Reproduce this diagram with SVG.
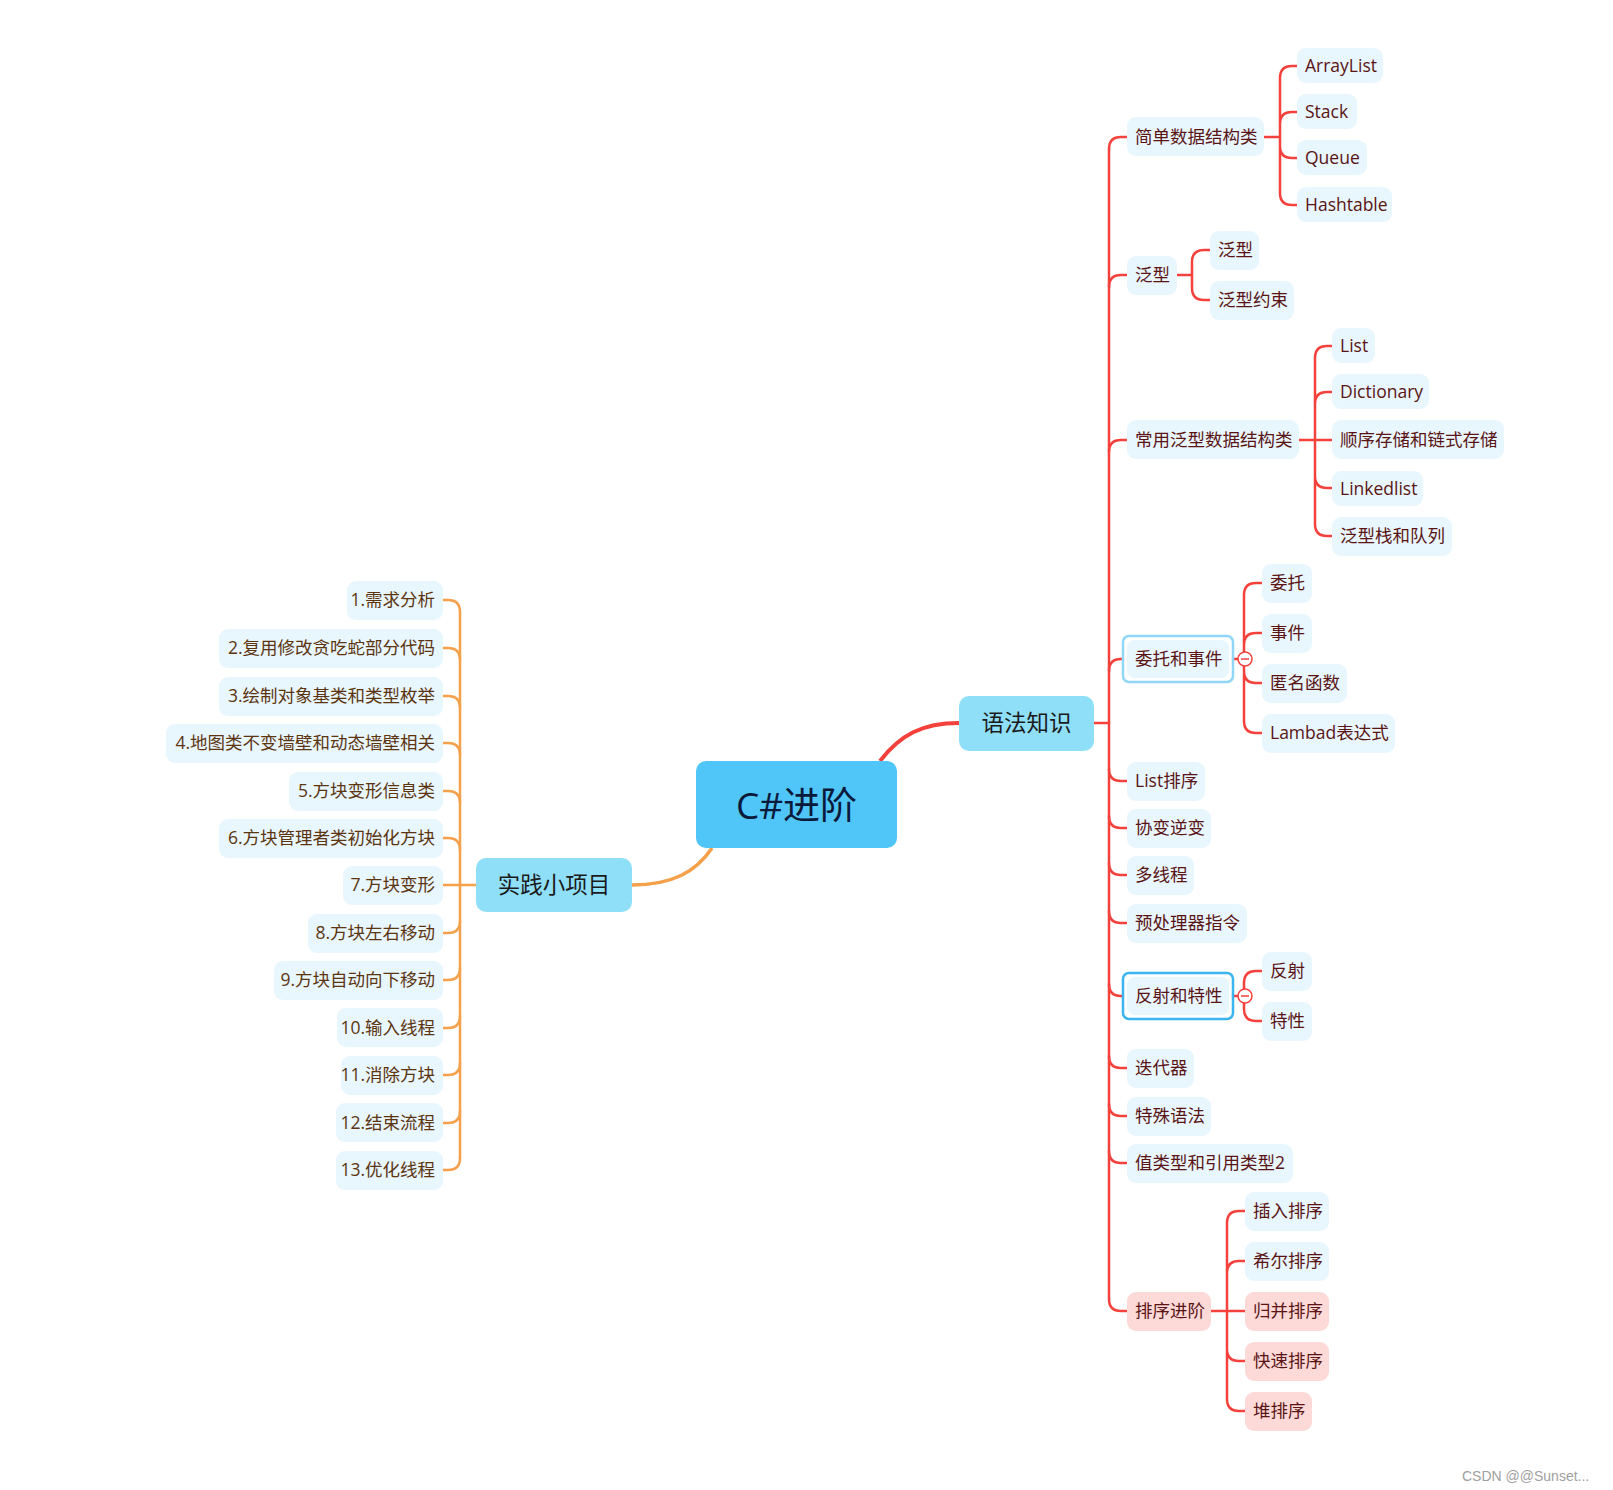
<svg xmlns="http://www.w3.org/2000/svg" width="1613" height="1490" viewBox="0 0 1613 1490">
<style>
.bg{fill:#ffffff}
.n{fill:#e8f6fe}
.pk{fill:#fdd9d8}
.hub{fill:#8fdff8}
.root{fill:#50c5f7}
.t{font-family:"Open Sans","Noto Sans CJK SC",sans-serif;font-size:17.5px;fill:#5a1414}
.tl{font-family:"Open Sans","Noto Sans CJK SC",sans-serif;font-size:17.5px;fill:#5c3510;text-anchor:end}
.th{font-family:"Noto Sans CJK SC","Open Sans",sans-serif;font-size:22.5px;fill:#1a1a1a;text-anchor:middle}
.tr{font-family:"Open Sans","Noto Sans CJK SC",sans-serif;font-size:37px;fill:#0b1a3a;text-anchor:middle}
.red{fill:none;stroke:#f5413c;stroke-width:2.5;stroke-linecap:round}
.org{fill:none;stroke:#f5a04a;stroke-width:2.5;stroke-linecap:round}
.sel1{fill:none;stroke:#8fd6f8;stroke-width:2.5}
.sel2{fill:none;stroke:#3bb5f0;stroke-width:2.5}
.col{fill:#ffffff;stroke:#f5413c;stroke-width:1.5}
.wm{font-family:"Liberation Sans",Arial,sans-serif;font-size:14px;fill:#a0a0a0}
</style>
<rect class="bg" x="0" y="0" width="1613" height="1490"/>

<g id="connectors">
  <!-- main branches -->
  <path d="M880,761 C900,735 922,723 959,723" fill="none" stroke="#f5413c" stroke-width="4"/>
  <path d="M712,848 C696,872 672,885 632,885" fill="none" stroke="#f5a04a" stroke-width="3.5"/>
  <!-- right trunk -->
  <path class="red" d="M1094,723 H1109"/>
  <path class="red" d="M1109,149 V1299" stroke-width="3"/>
  <path class="red" d="M1109,149 Q1109,137 1121,137 H1127"/>
  <path class="red" d="M1109,287 Q1109,275 1121,275 H1127"/>
  <path class="red" d="M1109,452 Q1109,440 1121,440 H1127"/>
  <path class="red" d="M1109,671 Q1109,659 1121,659 H1123"/>
  <path class="red" d="M1109,769 Q1109,781 1121,781 H1127"/>
  <path class="red" d="M1109,816 Q1109,828 1121,828 H1127"/>
  <path class="red" d="M1109,863 Q1109,875 1121,875 H1127"/>
  <path class="red" d="M1109,911 Q1109,923 1121,923 H1127"/>
  <path class="red" d="M1109,984 Q1109,996 1121,996 H1123"/>
  <path class="red" d="M1109,1056 Q1109,1068 1121,1068 H1127"/>
  <path class="red" d="M1109,1104 Q1109,1116 1121,1116 H1127"/>
  <path class="red" d="M1109,1151 Q1109,1163 1121,1163 H1127"/>
  <path class="red" d="M1109,1299 Q1109,1311 1121,1311 H1127"/>
  <!-- 简单数据结构类 -->
  <path class="red" d="M1264,137 H1280 M1280,78 V193 M1280,78 Q1280,66 1292,66 H1297 M1280,124 Q1280,112 1292,112 H1297 M1280,146 Q1280,158 1292,158 H1297 M1280,193 Q1280,205 1292,205 H1297"/>
  <!-- 泛型 -->
  <path class="red" d="M1177,275 H1192 M1192,262 V288 M1192,262 Q1192,250 1204,250 H1210 M1192,288 Q1192,300 1204,300 H1210"/>
  <!-- 常用泛型数据结构类 -->
  <path class="red" d="M1299,440 H1332 M1315,358 V524 M1315,358 Q1315,346 1327,346 H1332 M1315,404 Q1315,392 1327,392 H1332 M1315,476 Q1315,488 1327,488 H1332 M1315,524 Q1315,536 1327,536 H1332"/>
  <!-- 委托和事件 -->
  <path class="red" d="M1233,659 H1238 M1244,595 V721 M1244,595 Q1244,583 1256,583 H1262 M1244,645 Q1244,633 1256,633 H1262 M1244,671 Q1244,683 1256,683 H1262 M1244,721 Q1244,733 1256,733 H1262"/>
  <!-- 反射和特性 -->
  <path class="red" d="M1233,996 H1238 M1244,983 V1009 M1244,983 Q1244,971 1256,971 H1262 M1244,1009 Q1244,1021 1256,1021 H1262"/>
  <!-- 排序进阶 -->
  <path class="red" d="M1211,1311 H1245 M1227,1223 V1399 M1227,1223 Q1227,1211 1239,1211 H1245 M1227,1273 Q1227,1261 1239,1261 H1245 M1227,1349 Q1227,1361 1239,1361 H1245 M1227,1399 Q1227,1411 1239,1411 H1245"/>
  <!-- left bracket -->
  <path class="org" d="M476,885 H443 M460,612 V1158"/>
  <path class="org" d="M443,600 H448 Q460,600 460,612"/>
  <path class="org" d="M443,648 H448 Q460,648 460,660"/>
  <path class="org" d="M443,696 H448 Q460,696 460,708"/>
  <path class="org" d="M443,743 H448 Q460,743 460,755"/>
  <path class="org" d="M443,791 H448 Q460,791 460,803"/>
  <path class="org" d="M443,838 H448 Q460,838 460,850"/>
  <path class="org" d="M443,933 H448 Q460,933 460,921"/>
  <path class="org" d="M443,980 H448 Q460,980 460,968"/>
  <path class="org" d="M443,1028 H448 Q460,1028 460,1016"/>
  <path class="org" d="M443,1075 H448 Q460,1075 460,1063"/>
  <path class="org" d="M443,1123 H448 Q460,1123 460,1111"/>
  <path class="org" d="M443,1170 H448 Q460,1170 460,1158"/>
</g>

<g id="root">
  <rect class="root" x="696" y="761" width="201" height="87" rx="10"/>
  <text class="tr" x="796.5" y="819">C#进阶</text>
</g>
<g id="yufa">
  <rect class="hub" x="959" y="696" width="135" height="55" rx="10"/>
  <text class="th" x="1026.5" y="731">语法知识</text>
</g>
<g id="shijian">
  <rect class="hub" x="476" y="858" width="156" height="54" rx="10"/>
  <text class="th" x="554" y="893">实践小项目</text>
</g>

<!-- right level 2 -->
<g id="r1"><rect class="n" x="1127" y="117" width="137" height="39" rx="9"/><text class="t" x="1135" y="143">简单数据结构类</text></g>
<g id="r1a"><rect class="n" x="1297" y="48" width="86" height="35" rx="9"/><text class="t" x="1305" y="72">ArrayList</text></g>
<g id="r1b"><rect class="n" x="1297" y="94" width="60" height="35" rx="9"/><text class="t" x="1305" y="118">Stack</text></g>
<g id="r1c"><rect class="n" x="1297" y="140" width="70" height="35" rx="9"/><text class="t" x="1305" y="164">Queue</text></g>
<g id="r1d"><rect class="n" x="1297" y="187" width="95" height="35" rx="9"/><text class="t" x="1305" y="211">Hashtable</text></g>

<g id="r2"><rect class="n" x="1127" y="256" width="50" height="39" rx="9"/><text class="t" x="1135" y="281">泛型</text></g>
<g id="r2a"><rect class="n" x="1210" y="231" width="49" height="39" rx="9"/><text class="t" x="1218" y="256">泛型</text></g>
<g id="r2b"><rect class="n" x="1210" y="281" width="84" height="39" rx="9"/><text class="t" x="1218" y="306">泛型约束</text></g>

<g id="r3"><rect class="n" x="1127" y="420" width="172" height="39" rx="9"/><text class="t" x="1135" y="446">常用泛型数据结构类</text></g>
<g id="r3a"><rect class="n" x="1332" y="328" width="43" height="35" rx="9"/><text class="t" x="1340" y="352">List</text></g>
<g id="r3b"><rect class="n" x="1332" y="374" width="97" height="35" rx="9"/><text class="t" x="1340" y="398">Dictionary</text></g>
<g id="r3c"><rect class="n" x="1332" y="420" width="172" height="39" rx="9"/><text class="t" x="1340" y="446">顺序存储和链式存储</text></g>
<g id="r3d"><rect class="n" x="1332" y="471" width="91" height="35" rx="9"/><text class="t" x="1340" y="495">Linkedlist</text></g>
<g id="r3e"><rect class="n" x="1332" y="517" width="120" height="39" rx="9"/><text class="t" x="1340" y="542">泛型栈和队列</text></g>

<g id="r4"><rect class="n" x="1127" y="640" width="102" height="38" rx="8"/><rect class="sel1" x="1123" y="636" width="110" height="46" rx="6"/><text class="t" x="1135" y="665">委托和事件</text></g>
<g id="r4a"><rect class="n" x="1262" y="564" width="50" height="39" rx="9"/><text class="t" x="1270" y="589">委托</text></g>
<g id="r4b"><rect class="n" x="1262" y="614" width="50" height="39" rx="9"/><text class="t" x="1270" y="639">事件</text></g>
<g id="r4c"><rect class="n" x="1262" y="664" width="85" height="39" rx="9"/><text class="t" x="1270" y="689">匿名函数</text></g>
<g id="r4d"><rect class="n" x="1262" y="714" width="133" height="39" rx="9"/><text class="t" x="1270" y="739">Lambad表达式</text></g>
<g id="c4"><circle class="col" cx="1245" cy="659" r="7"/><path d="M1241,659 H1249" stroke="#f5413c" stroke-width="1.5"/></g>

<g id="r5"><rect class="n" x="1127" y="762" width="78" height="39" rx="9"/><text class="t" x="1135" y="787">List排序</text></g>
<g id="r6"><rect class="n" x="1127" y="809" width="84" height="39" rx="9"/><text class="t" x="1135" y="834">协变逆变</text></g>
<g id="r7"><rect class="n" x="1127" y="856" width="67" height="39" rx="9"/><text class="t" x="1135" y="881">多线程</text></g>
<g id="r8"><rect class="n" x="1127" y="904" width="120" height="39" rx="9"/><text class="t" x="1135" y="929">预处理器指令</text></g>

<g id="r9"><rect class="n" x="1127" y="977" width="102" height="38" rx="8"/><rect class="sel2" x="1123" y="973" width="110" height="46" rx="6"/><text class="t" x="1135" y="1002">反射和特性</text></g>
<g id="r9a"><rect class="n" x="1262" y="952" width="50" height="39" rx="9"/><text class="t" x="1270" y="977">反射</text></g>
<g id="r9b"><rect class="n" x="1262" y="1002" width="50" height="39" rx="9"/><text class="t" x="1270" y="1027">特性</text></g>
<g id="c9"><circle class="col" cx="1245" cy="996" r="7"/><path d="M1241,996 H1249" stroke="#f5413c" stroke-width="1.5"/></g>

<g id="r10"><rect class="n" x="1127" y="1049" width="67" height="39" rx="9"/><text class="t" x="1135" y="1074">迭代器</text></g>
<g id="r11"><rect class="n" x="1127" y="1097" width="84" height="39" rx="9"/><text class="t" x="1135" y="1122">特殊语法</text></g>
<g id="r12"><rect class="n" x="1127" y="1144" width="166" height="39" rx="9"/><text class="t" x="1135" y="1169">值类型和引用类型2</text></g>

<g id="r13"><rect class="pk" x="1127" y="1292" width="84" height="39" rx="9"/><text class="t" x="1135" y="1317">排序进阶</text></g>
<g id="r13a"><rect class="n" x="1245" y="1192" width="84" height="39" rx="9"/><text class="t" x="1253" y="1217">插入排序</text></g>
<g id="r13b"><rect class="n" x="1245" y="1242" width="84" height="39" rx="9"/><text class="t" x="1253" y="1267">希尔排序</text></g>
<g id="r13c"><rect class="pk" x="1245" y="1292" width="84" height="39" rx="9"/><text class="t" x="1253" y="1317">归并排序</text></g>
<g id="r13d"><rect class="pk" x="1245" y="1342" width="84" height="39" rx="9"/><text class="t" x="1253" y="1367">快速排序</text></g>
<g id="r13e"><rect class="pk" x="1245" y="1392" width="67" height="39" rx="9"/><text class="t" x="1253" y="1417">堆排序</text></g>

<!-- left children -->
<g id="l1"><rect class="n" x="347" y="581" width="96" height="39" rx="9"/><text class="tl" x="435" y="606">1.需求分析</text></g>
<g id="l2"><rect class="n" x="219" y="629" width="224" height="39" rx="9"/><text class="tl" x="435" y="654">2.复用修改贪吃蛇部分代码</text></g>
<g id="l3"><rect class="n" x="219" y="677" width="224" height="39" rx="9"/><text class="tl" x="435" y="702">3.绘制对象基类和类型枚举</text></g>
<g id="l4"><rect class="n" x="166" y="724" width="277" height="39" rx="9"/><text class="tl" x="435" y="749">4.地图类不变墙壁和动态墙壁相关</text></g>
<g id="l5"><rect class="n" x="289" y="772" width="154" height="39" rx="9"/><text class="tl" x="435" y="797">5.方块变形信息类</text></g>
<g id="l6"><rect class="n" x="219" y="819" width="224" height="39" rx="9"/><text class="tl" x="435" y="844">6.方块管理者类初始化方块</text></g>
<g id="l7"><rect class="n" x="343" y="866" width="100" height="39" rx="9"/><text class="tl" x="435" y="891">7.方块变形</text></g>
<g id="l8"><rect class="n" x="308" y="914" width="135" height="39" rx="9"/><text class="tl" x="435" y="939">8.方块左右移动</text></g>
<g id="l9"><rect class="n" x="274" y="961" width="169" height="39" rx="9"/><text class="tl" x="435" y="986">9.方块自动向下移动</text></g>
<g id="l10"><rect class="n" x="337" y="1008" width="106" height="39" rx="9"/><text class="tl" x="435" y="1034">10.输入线程</text></g>
<g id="l11"><rect class="n" x="341" y="1056" width="102" height="39" rx="9"/><text class="tl" x="435" y="1081">11.消除方块</text></g>
<g id="l12"><rect class="n" x="336" y="1103" width="107" height="39" rx="9"/><text class="tl" x="435" y="1129">12.结束流程</text></g>
<g id="l13"><rect class="n" x="336" y="1151" width="107" height="39" rx="9"/><text class="tl" x="435" y="1176">13.优化线程</text></g>

<text class="wm" x="1462" y="1481">CSDN @@Sunset...</text>
</svg>
